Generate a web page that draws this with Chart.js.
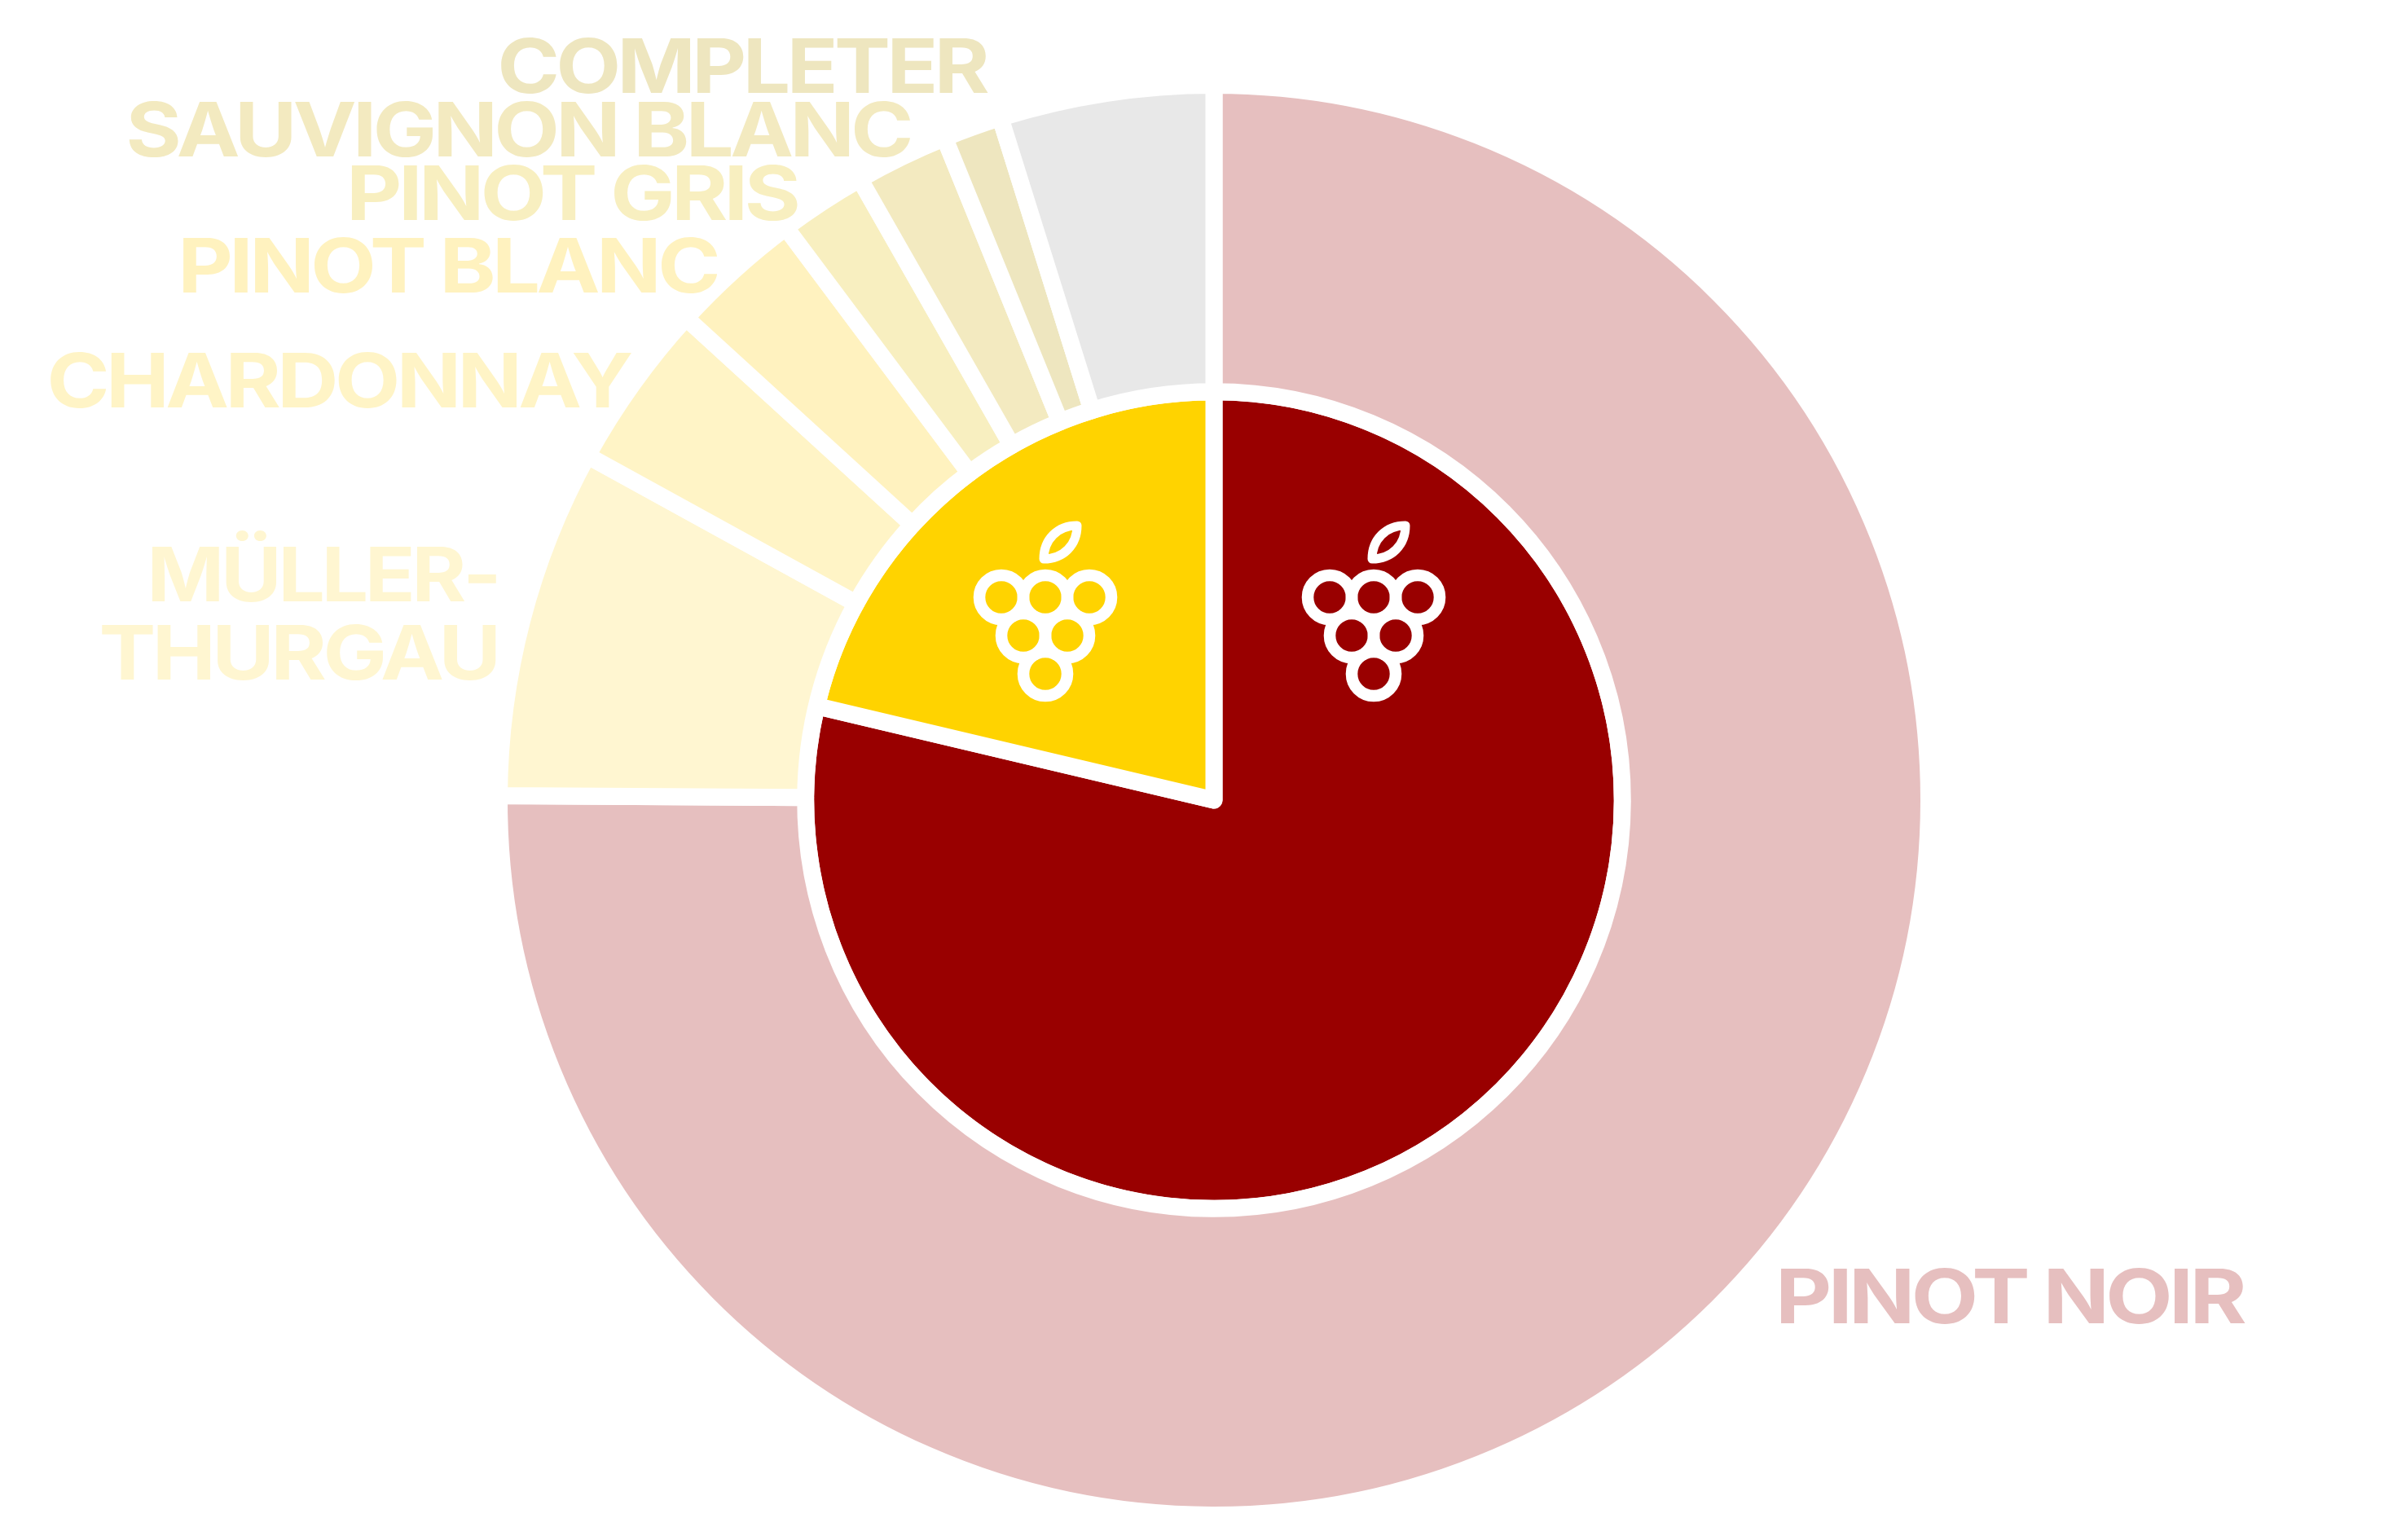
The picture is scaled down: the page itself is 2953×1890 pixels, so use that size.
<!DOCTYPE html>
<html>
<head>
<meta charset="utf-8">
<title>Grape varieties</title>
<script src="https://cdn.jsdelivr.net/npm/chart.js@4"></script>
<style>
    html, body { margin: 0; padding: 0; background: #fff; }
    #wineChart { display: block; }
</style>
</head>
<body>
<canvas id="wineChart" width="2953" height="1890"></canvas>
<script>
// Values, in percent of the ring
const varieties = ['Pinot Noir', 'Müller-Thurgau', 'Chardonnay', 'Pinot Blanc', 'Pinot Gris', 'Sauvignon Blanc', 'Completer', 'Other'];
const varietyShare = [75.1, 7.9, 3.78, 3.0, 1.97, 2.1, 1.32, 4.83];
const grapeColours = ['Red', 'White'];
const colourShare = [78.7, 21.3];

const ringColors = ['#e6bfbf', '#fff6d1', '#fff4c6', '#fff2bf', '#f8efc0', '#f3eac0', '#eee6bf', '#e8e8e8'];
const pieColors = ['#990000', '#ffd300'];

// Label boxes: text lines with left, right and baseline in page pixels
const labelLayout = [
    { text: 'PINOT NOIR', color: ringColors[0], x0: 2186, x1: 2756, y: 1624 },
    { text: 'MÜLLER-', color: ringColors[1], x0: 187, x1: 609, y: 738 },
    { text: 'THURGAU', color: ringColors[1], x0: 125, x1: 609, y: 834 },
    { text: 'CHARDONNAY', color: ringColors[2], x0: 62, x1: 776, y: 500 },
    { text: 'PINOT BLANC', color: ringColors[3], x0: 225, x1: 881, y: 359 },
    { text: 'PINOT GRIS', color: ringColors[4], x0: 432, x1: 979, y: 270 },
    { text: 'SAUVIGNON BLANC', color: ringColors[5], x0: 158, x1: 1118, y: 192 },
    { text: 'COMPLETER', color: ringColors[6], x0: 615, x1: 1213, y: 114 }
];

function drawLabel(ctx, label) {
    ctx.save();
    ctx.font = '700 92px Inter';
    ctx.letterSpacing = '-4px';
    ctx.fillStyle = label.color;
    ctx.textBaseline = 'alphabetic';
    const m = ctx.measureText(label.text);
    const inkWidth = m.actualBoundingBoxLeft + m.actualBoundingBoxRight;
    ctx.translate(label.x0, label.y);
    ctx.scale((label.x1 - label.x0) / inkWidth, 1);
    ctx.fillText(label.text, m.actualBoundingBoxLeft, 0);
    ctx.restore();
}

// Bunch of grapes with a leaf, x/y is the top left berry
function drawGrapes(ctx, x, y) {
    const berries = [[0, 0], [54, 0], [108, 0], [27, 47], [81, 47], [54, 94]];
    ctx.save();
    ctx.strokeStyle = '#fff';
    ctx.lineWidth = 14.6;
    berries.forEach(function (b) {
        ctx.beginPath();
        ctx.arc(x + b[0], y + b[1], 27, 0, Math.PI * 2);
        ctx.stroke();
    });
    ctx.lineWidth = 11;
    ctx.lineJoin = 'round';
    ctx.beginPath();
    ctx.moveTo(x + 52, y - 47);
    ctx.bezierCurveTo(x + 52, y - 71, x + 69, y - 88, x + 93, y - 88);
    ctx.bezierCurveTo(x + 93, y - 64, x + 76, y - 47, x + 52, y - 47);
    ctx.closePath();
    ctx.stroke();
    ctx.restore();
}

const decorations = {
    id: 'decorations',
    afterDatasetsDraw: function (chart) {
        const ctx = chart.ctx;
        labelLayout.forEach(function (label) { drawLabel(ctx, label); });
        drawGrapes(ctx, 1229, 733);
        drawGrapes(ctx, 1632, 733);
    }
};

new Chart(document.getElementById('wineChart'), {
    type: 'doughnut',
    data: {
        labels: varieties,
        datasets: [{
            label: 'Variety',
            data: varietyShare,
            backgroundColor: ringColors,
            weight: 376
        }, {
            label: 'Colour',
            data: colourShare,
            backgroundColor: pieColors,
            weight: 501
        }]
    },
    options: {
        responsive: false,
        animation: false,
        cutout: 0,
        layout: { padding: { top: 94, bottom: 20, left: 27, right: 0 } },
        elements: { arc: { borderColor: '#fff', borderWidth: 21, borderJoinStyle: 'round' } },
        plugins: {
            legend: { display: false },
            tooltip: { enabled: false }
        }
    },
    plugins: [decorations]
});
</script>
</body>
</html>
